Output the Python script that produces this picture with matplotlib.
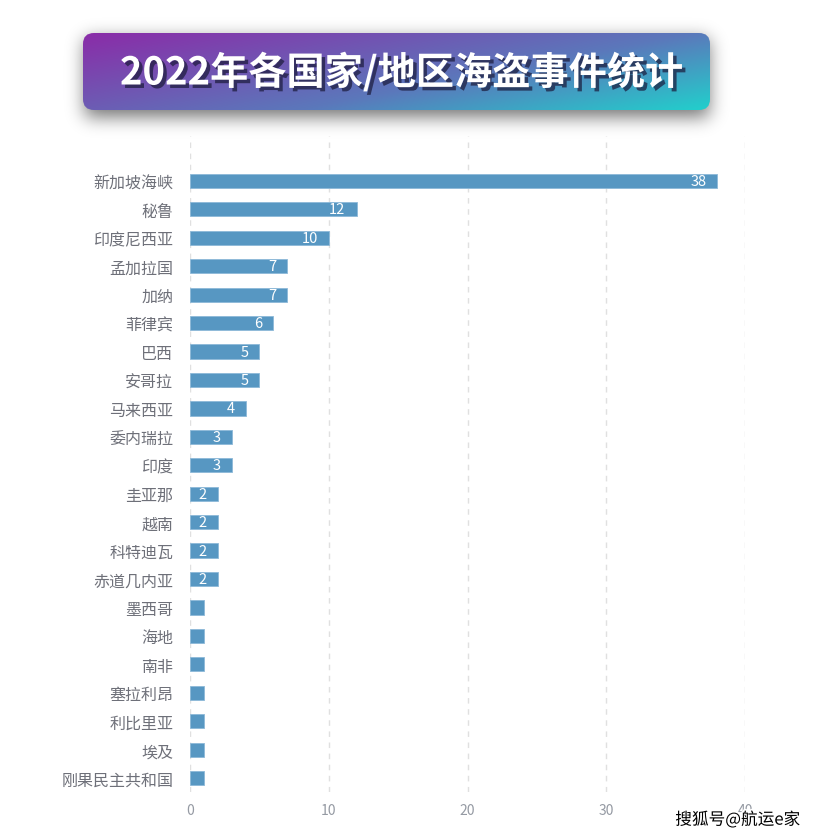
import numpy as np
import matplotlib
matplotlib.use("Agg")
import matplotlib.pyplot as plt
from matplotlib.patches import FancyBboxPatch
import matplotlib.patheffects as pe

plt.rcParams['font.family'] = ['Noto Sans CJK SC', 'DejaVu Sans']

categories = ["新加坡海峡", "秘鲁", "印度尼西亚", "孟加拉国", "加纳", "菲律宾", "巴西", "安哥拉",
              "马来西亚", "委内瑞拉", "印度", "圭亚那", "越南", "科特迪瓦", "赤道几内亚", "墨西哥",
              "海地", "南非", "塞拉利昂", "利比里亚", "埃及", "刚果民主共和国"]
values = [38, 12, 10, 7, 7, 6, 5, 5, 4, 3, 3, 2, 2, 2, 2, 1, 1, 1, 1, 1, 1, 1]
x_ticks = [0, 10, 20, 30, 40]
title = "2022年各国家/地区海盗事件统计"
watermark = "搜狐号@航运e家"

W, H = 816, 837
fig = plt.figure(figsize=(W / 100, H / 100), dpi=100)
fig.patch.set_facecolor("white")

# main axes (pixel coords -> fractions)
ax_l, ax_r, ax_t, ax_b = 190, 745, 137, 793
ax = fig.add_axes([ax_l / W, 1 - ax_b / H, (ax_r - ax_l) / W, (ax_b - ax_t) / H])
y = np.arange(len(categories))
ax.barh(y, values, height=0.5, color="#5797c2", edgecolor="#8db9d8", linewidth=0.6, zorder=3)
ax.set_xlim(0, 40)
ax.set_ylim(21.49, -1.58)
ax.set_yticks(y)
ax.set_yticklabels(categories, fontsize=11.5, color="#6e7079")
ax.set_xticks(x_ticks)
ax.set_xticklabels([str(t) for t in x_ticks], fontsize=10, color="#959aa3")
ax.tick_params(axis="y", length=0, pad=12)
ax.tick_params(axis="x", length=0, pad=8)
for s in ax.spines.values():
    s.set_visible(False)
ax.grid(axis="x", linestyle=(0, (4, 4)), color="#e0e0e0", linewidth=1, zorder=0)
ax.set_axisbelow(True)
for yi, v in zip(y, values):
    if v > 1:
        ax.annotate(str(v), xy=(v, yi), xytext=(-8, 0), textcoords="offset points",
                    ha="right", va="center", color="white", fontsize=10.5, zorder=4)

# overlay axes in pixel coordinates
ov = fig.add_axes([0, 0, 1, 1], zorder=5)
ov.set_xlim(0, W)
ov.set_ylim(H, 0)
ov.axis("off")
ov.patch.set_alpha(0)

bx0, bx1, by0, by1 = 83, 710, 34, 111
# shadow
yy, xx = np.mgrid[0:H // 4 + 20, 0:W]
mask = ((xx >= bx0 + 2) & (xx <= bx1 - 2) & (yy >= by0 + 6) & (yy <= by1 + 6)).astype(float)
def blur(a, sigma, axis):
    r = int(3 * sigma)
    k = np.exp(-0.5 * (np.arange(-r, r + 1) / sigma) ** 2)
    k /= k.sum()
    return np.apply_along_axis(lambda m: np.convolve(m, k, mode="same"), axis, a)
mask = blur(blur(mask, 9, 0), 9, 1)
sh = np.zeros(mask.shape + (4,))
sh[..., 3] = mask * 0.55
ov.imshow(sh, extent=(0, W, mask.shape[0], 0), origin="upper", zorder=1, interpolation="bilinear")

# gradient box
gw, gh = 300, 40
gx, gy = np.meshgrid(np.linspace(0, 1, gw), np.linspace(0, 1, gh))
t = np.clip(0.62 * gx + 0.38 * gy, 0, 1)[..., None]
c0 = np.array([0x8a, 0x2c, 0xa8]) / 255
c1 = np.array([0x5b, 0x78, 0xbb]) / 255
c2 = np.array([0x22, 0xcf, 0xcc]) / 255
grad = np.where(t < 0.6, c0 + (c1 - c0) * (t / 0.6), c1 + (c2 - c1) * ((t - 0.6) / 0.4))
im = ov.imshow(grad, extent=(bx0, bx1, by1, by0), origin="upper", zorder=2, interpolation="bilinear")
box = FancyBboxPatch((bx0, by0), bx1 - bx0, by1 - by0, boxstyle="round,pad=0,rounding_size=11",
                     transform=ov.transData, facecolor="none", edgecolor="none")
ov.add_patch(box)
im.set_clip_path(box)

ov.text(402, (by0 + by1) / 2 + 1, title, fontsize=27.5, fontweight="bold", color="white",
        ha="center", va="center", zorder=3,
        path_effects=[pe.withSimplePatchShadow(offset=(2.5, -2.5), shadow_rgbFace="#1a1a3a", alpha=0.7)])

ov.text(800, 821, watermark, fontsize=12, color="black", ha="right", va="center", zorder=6,
        path_effects=[pe.withStroke(linewidth=2.5, foreground="white")])

fig.savefig("out.png", dpi=100, facecolor="white")
